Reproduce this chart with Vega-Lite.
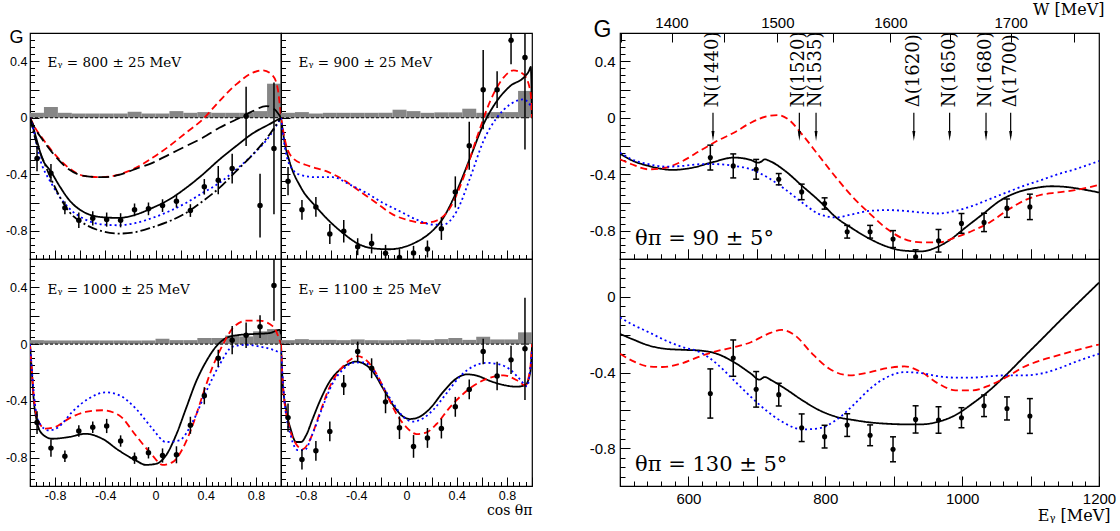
{
"$schema":"https://vega.github.io/schema/vega-lite/v6.json",
"padding":{"left":4,"top":0,"right":4,"bottom":2},
"background":"white",
"datasets":{
"hist":[
{"p":800,"x":-1,"x2":-0.8889,"y":0.035},{"p":800,"x":-0.8889,"x2":-0.7778,"y":0.076},{"p":800,"x":-0.7778,"x2":-0.6667,"y":0.035},{"p":800,"x":-0.6667,"x2":-0.5556,"y":0.03},{"p":800,"x":-0.5556,"x2":-0.4444,"y":0.03},{"p":800,"x":-0.4444,"x2":-0.3333,"y":0.03},{"p":800,"x":-0.3333,"x2":-0.2222,"y":0.03},{"p":800,"x":-0.2222,"x2":-0.1111,"y":0.043},{"p":800,"x":-0.1111,"x2":0,"y":0.03},{"p":800,"x":0,"x2":0.1111,"y":0.03},{"p":800,"x":0.1111,"x2":0.2222,"y":0.047},{"p":800,"x":0.2222,"x2":0.3333,"y":0.035},{"p":800,"x":0.3333,"x2":0.4444,"y":0.04},{"p":800,"x":0.4444,"x2":0.5556,"y":0.035},{"p":800,"x":0.5556,"x2":0.6667,"y":0.035},{"p":800,"x":0.6667,"x2":0.7778,"y":0.035},{"p":800,"x":0.7778,"x2":0.8889,"y":0.047},{"p":800,"x":0.8889,"x2":1,"y":0.241},
{"p":900,"x":-1,"x2":-0.8889,"y":0.035},{"p":900,"x":-0.8889,"x2":-0.7778,"y":0.04},{"p":900,"x":-0.7778,"x2":-0.6667,"y":0.03},{"p":900,"x":-0.6667,"x2":-0.5556,"y":0.035},{"p":900,"x":-0.5556,"x2":-0.4444,"y":0.035},{"p":900,"x":-0.4444,"x2":-0.3333,"y":0.035},{"p":900,"x":-0.3333,"x2":-0.2222,"y":0.035},{"p":900,"x":-0.2222,"x2":-0.1111,"y":0.035},{"p":900,"x":-0.1111,"x2":0,"y":0.057},{"p":900,"x":0,"x2":0.1111,"y":0.047},{"p":900,"x":0.1111,"x2":0.2222,"y":0.035},{"p":900,"x":0.2222,"x2":0.3333,"y":0.038},{"p":900,"x":0.3333,"x2":0.4444,"y":0.038},{"p":900,"x":0.4444,"x2":0.5556,"y":0.064},{"p":900,"x":0.5556,"x2":0.6667,"y":0.035},{"p":900,"x":0.6667,"x2":0.7778,"y":0.04},{"p":900,"x":0.7778,"x2":0.8889,"y":0.04},{"p":900,"x":0.8889,"x2":1,"y":0.19},
{"p":1000,"x":-1,"x2":-0.8889,"y":0.028},{"p":1000,"x":-0.8889,"x2":-0.7778,"y":0.026},{"p":1000,"x":-0.7778,"x2":-0.6667,"y":0.026},{"p":1000,"x":-0.6667,"x2":-0.5556,"y":0.026},{"p":1000,"x":-0.5556,"x2":-0.4444,"y":0.026},{"p":1000,"x":-0.4444,"x2":-0.3333,"y":0.026},{"p":1000,"x":-0.3333,"x2":-0.2222,"y":0.026},{"p":1000,"x":-0.2222,"x2":-0.1111,"y":0.026},{"p":1000,"x":-0.1111,"x2":0,"y":0.026},{"p":1000,"x":0,"x2":0.1111,"y":0.038},{"p":1000,"x":0.1111,"x2":0.2222,"y":0.028},{"p":1000,"x":0.2222,"x2":0.3333,"y":0.028},{"p":1000,"x":0.3333,"x2":0.4444,"y":0.043},{"p":1000,"x":0.4444,"x2":0.5556,"y":0.043},{"p":1000,"x":0.5556,"x2":0.6667,"y":0.061},{"p":1000,"x":0.6667,"x2":0.7778,"y":0.054},{"p":1000,"x":0.7778,"x2":0.8889,"y":0.09},{"p":1000,"x":0.8889,"x2":1,"y":0.106},
{"p":1100,"x":-1,"x2":-0.8889,"y":0.028},{"p":1100,"x":-0.8889,"x2":-0.7778,"y":0.035},{"p":1100,"x":-0.7778,"x2":-0.6667,"y":0.03},{"p":1100,"x":-0.6667,"x2":-0.5556,"y":0.03},{"p":1100,"x":-0.5556,"x2":-0.4444,"y":0.028},{"p":1100,"x":-0.4444,"x2":-0.3333,"y":0.033},{"p":1100,"x":-0.3333,"x2":-0.2222,"y":0.028},{"p":1100,"x":-0.2222,"x2":-0.1111,"y":0.028},{"p":1100,"x":-0.1111,"x2":0,"y":0.028},{"p":1100,"x":0,"x2":0.1111,"y":0.033},{"p":1100,"x":0.1111,"x2":0.2222,"y":0.028},{"p":1100,"x":0.2222,"x2":0.3333,"y":0.035},{"p":1100,"x":0.3333,"x2":0.4444,"y":0.043},{"p":1100,"x":0.4444,"x2":0.5556,"y":0.03},{"p":1100,"x":0.5556,"x2":0.6667,"y":0.052},{"p":1100,"x":0.6667,"x2":0.7778,"y":0.033},{"p":1100,"x":0.7778,"x2":0.8889,"y":0.033},{"p":1100,"x":0.8889,"x2":1,"y":0.083}
],
"pts":[
{"p":800,"x":-0.944,"y":-0.289,"lo":-0.379,"hi":-0.199},{"p":800,"x":-0.833,"y":-0.392,"lo":-0.457,"hi":-0.327},{"p":800,"x":-0.722,"y":-0.638,"lo":-0.683,"hi":-0.593},{"p":800,"x":-0.611,"y":-0.726,"lo":-0.781,"hi":-0.671},{"p":800,"x":-0.5,"y":-0.712,"lo":-0.762,"hi":-0.662},{"p":800,"x":-0.389,"y":-0.721,"lo":-0.771,"hi":-0.671},{"p":800,"x":-0.278,"y":-0.726,"lo":-0.776,"hi":-0.676},{"p":800,"x":-0.167,"y":-0.652,"lo":-0.697,"hi":-0.607},{"p":800,"x":-0.056,"y":-0.645,"lo":-0.69,"hi":-0.6},{"p":800,"x":0.056,"y":-0.622,"lo":-0.667,"hi":-0.577},{"p":800,"x":0.167,"y":-0.591,"lo":-0.636,"hi":-0.546},{"p":800,"x":0.278,"y":-0.657,"lo":-0.702,"hi":-0.612},{"p":800,"x":0.389,"y":-0.489,"lo":-0.544,"hi":-0.434},{"p":800,"x":0.5,"y":-0.442,"lo":-0.542,"hi":-0.342},{"p":800,"x":0.611,"y":-0.36,"lo":-0.465,"hi":-0.255},{"p":800,"x":0.722,"y":0.01,"lo":-0.2,"hi":0.22},{"p":800,"x":0.833,"y":-0.622,"lo":-0.847,"hi":-0.397},{"p":800,"x":0.944,"y":-0.217,"lo":-0.683,"hi":0.249},
{"p":900,"x":-0.944,"y":-0.449,"lo":-0.549,"hi":-0.349},{"p":900,"x":-0.833,"y":-0.652,"lo":-0.722,"hi":-0.582},{"p":900,"x":-0.722,"y":-0.631,"lo":-0.701,"hi":-0.561},{"p":900,"x":-0.611,"y":-0.823,"lo":-0.893,"hi":-0.753},{"p":900,"x":-0.5,"y":-0.804,"lo":-0.884,"hi":-0.724},{"p":900,"x":-0.389,"y":-0.913,"lo":-0.973,"hi":-0.853},{"p":900,"x":-0.278,"y":-0.891,"lo":-0.961,"hi":-0.821},{"p":900,"x":-0.167,"y":-0.96,"lo":-1.02,"hi":-0.9},{"p":900,"x":-0.056,"y":-0.99,"lo":-1.05,"hi":-0.93},{"p":900,"x":0.056,"y":-0.957,"lo":-1.007,"hi":-0.907},{"p":900,"x":0.167,"y":-0.929,"lo":-0.989,"hi":-0.869},{"p":900,"x":0.278,"y":-0.785,"lo":-0.865,"hi":-0.705},{"p":900,"x":0.389,"y":-0.525,"lo":-0.635,"hi":-0.415},{"p":900,"x":0.5,"y":-0.199,"lo":-0.369,"hi":-0.029},{"p":900,"x":0.611,"y":0.199,"lo":-0.081,"hi":0.479},{"p":900,"x":0.722,"y":0.199,"lo":0.069,"hi":0.329},{"p":900,"x":0.833,"y":0.548,"lo":0.378,"hi":0.718},{"p":900,"x":0.944,"y":0.426,"lo":-0.224,"hi":1.076},
{"p":1000,"x":-0.944,"y":-0.553,"lo":-0.633,"hi":-0.473},{"p":1000,"x":-0.833,"y":-0.733,"lo":-0.793,"hi":-0.673},{"p":1000,"x":-0.722,"y":-0.79,"lo":-0.83,"hi":-0.75},{"p":1000,"x":-0.611,"y":-0.612,"lo":-0.652,"hi":-0.572},{"p":1000,"x":-0.5,"y":-0.586,"lo":-0.626,"hi":-0.546},{"p":1000,"x":-0.389,"y":-0.577,"lo":-0.627,"hi":-0.527},{"p":1000,"x":-0.278,"y":-0.683,"lo":-0.723,"hi":-0.643},{"p":1000,"x":-0.167,"y":-0.804,"lo":-0.844,"hi":-0.764},{"p":1000,"x":-0.056,"y":-0.766,"lo":-0.806,"hi":-0.726},{"p":1000,"x":0.056,"y":-0.785,"lo":-0.835,"hi":-0.735},{"p":1000,"x":0.167,"y":-0.78,"lo":-0.84,"hi":-0.72},{"p":1000,"x":0.278,"y":-0.572,"lo":-0.632,"hi":-0.512},{"p":1000,"x":0.389,"y":-0.364,"lo":-0.424,"hi":-0.304},{"p":1000,"x":0.5,"y":-0.099,"lo":-0.159,"hi":-0.039},{"p":1000,"x":0.611,"y":0.028,"lo":-0.072,"hi":0.128},{"p":1000,"x":0.722,"y":0.062,"lo":-0.028,"hi":0.152},{"p":1000,"x":0.833,"y":0.123,"lo":0.043,"hi":0.203},{"p":1000,"x":0.944,"y":0.414,"lo":0.164,"hi":0.664},
{"p":1100,"x":-0.944,"y":-0.518,"lo":-0.618,"hi":-0.418},{"p":1100,"x":-0.833,"y":-0.813,"lo":-0.883,"hi":-0.743},{"p":1100,"x":-0.722,"y":-0.752,"lo":-0.822,"hi":-0.682},{"p":1100,"x":-0.611,"y":-0.615,"lo":-0.685,"hi":-0.545},{"p":1100,"x":-0.5,"y":-0.288,"lo":-0.358,"hi":-0.218},{"p":1100,"x":-0.389,"y":-0.052,"lo":-0.122,"hi":0.018},{"p":1100,"x":-0.278,"y":-0.17,"lo":-0.24,"hi":-0.1},{"p":1100,"x":-0.167,"y":-0.407,"lo":-0.487,"hi":-0.327},{"p":1100,"x":-0.056,"y":-0.589,"lo":-0.669,"hi":-0.509},{"p":1100,"x":0.056,"y":-0.721,"lo":-0.801,"hi":-0.641},{"p":1100,"x":0.167,"y":-0.661,"lo":-0.731,"hi":-0.591},{"p":1100,"x":0.278,"y":-0.595,"lo":-0.665,"hi":-0.525},{"p":1100,"x":0.389,"y":-0.442,"lo":-0.512,"hi":-0.372},{"p":1100,"x":0.5,"y":-0.319,"lo":-0.389,"hi":-0.249},{"p":1100,"x":0.611,"y":-0.052,"lo":-0.142,"hi":0.038},{"p":1100,"x":0.722,"y":-0.225,"lo":-0.325,"hi":-0.125},{"p":1100,"x":0.833,"y":-0.111,"lo":-0.211,"hi":-0.011},{"p":1100,"x":0.944,"y":-0.033,"lo":-0.393,"hi":0.327},
{"p":90,"x":632,"y":-0.282,"lo":-0.37,"hi":-0.194},{"p":90,"x":665.5,"y":-0.341,"lo":-0.426,"hi":-0.256},{"p":90,"x":699,"y":-0.365,"lo":-0.435,"hi":-0.295},{"p":90,"x":732,"y":-0.435,"lo":-0.475,"hi":-0.395},{"p":90,"x":765.5,"y":-0.525,"lo":-0.58,"hi":-0.47},{"p":90,"x":799,"y":-0.607,"lo":-0.647,"hi":-0.567},{"p":90,"x":832,"y":-0.807,"lo":-0.852,"hi":-0.762},{"p":90,"x":865.5,"y":-0.807,"lo":-0.852,"hi":-0.762},{"p":90,"x":899,"y":-0.859,"lo":-0.919,"hi":-0.799},{"p":90,"x":932,"y":-0.985,"lo":-1.035,"hi":-0.935},{"p":90,"x":965.5,"y":-0.871,"lo":-0.951,"hi":-0.791},{"p":90,"x":999,"y":-0.748,"lo":-0.818,"hi":-0.678},{"p":90,"x":1032,"y":-0.741,"lo":-0.806,"hi":-0.676},{"p":90,"x":1065.5,"y":-0.64,"lo":-0.705,"hi":-0.575},{"p":90,"x":1099,"y":-0.631,"lo":-0.721,"hi":-0.541},
{"p":130,"x":632,"y":-0.511,"lo":-0.641,"hi":-0.381},{"p":130,"x":665.5,"y":-0.324,"lo":-0.42,"hi":-0.228},{"p":130,"x":699,"y":-0.489,"lo":-0.583,"hi":-0.395},{"p":130,"x":732,"y":-0.517,"lo":-0.577,"hi":-0.457},{"p":130,"x":765.5,"y":-0.692,"lo":-0.765,"hi":-0.619},{"p":130,"x":799,"y":-0.739,"lo":-0.799,"hi":-0.679},{"p":130,"x":832,"y":-0.678,"lo":-0.738,"hi":-0.618},{"p":130,"x":865.5,"y":-0.732,"lo":-0.787,"hi":-0.677},{"p":130,"x":899,"y":-0.806,"lo":-0.872,"hi":-0.74},{"p":130,"x":932,"y":-0.648,"lo":-0.72,"hi":-0.576},{"p":130,"x":965.5,"y":-0.651,"lo":-0.721,"hi":-0.581},{"p":130,"x":999,"y":-0.639,"lo":-0.692,"hi":-0.586},{"p":130,"x":1032,"y":-0.576,"lo":-0.633,"hi":-0.519},{"p":130,"x":1065.5,"y":-0.59,"lo":-0.651,"hi":-0.529},{"p":130,"x":1099,"y":-0.63,"lo":-0.722,"hi":-0.538}
],
"res":[{"lab":"N(1440)","x":635.9},{"lab":"N(1520)","x":762.1},{"lab":"N(1535)","x":786.5},{"lab":"Δ(1620)","x":929.4},{"lab":"N(1650)","x":981.7},{"lab":"N(1680)","x":1034.9},{"lab":"Δ(1700)","x":1070.9}],
"cur":[
{"p":800,"m":"s","x":-1,"y":0},{"p":800,"m":"s","x":-0.97,"y":-0.083},{"p":800,"m":"s","x":-0.944,"y":-0.165},{"p":800,"m":"s","x":-0.904,"y":-0.284},{"p":800,"m":"s","x":-0.832,"y":-0.383},{"p":800,"m":"s","x":-0.76,"y":-0.49},{"p":800,"m":"s","x":-0.691,"y":-0.579},{"p":800,"m":"s","x":-0.557,"y":-0.674},{"p":800,"m":"s","x":-0.424,"y":-0.704},{"p":800,"m":"s","x":-0.291,"y":-0.709},{"p":800,"m":"s","x":-0.157,"y":-0.686},{"p":800,"m":"s","x":-0.024,"y":-0.638},{"p":800,"m":"s","x":0.109,"y":-0.579},{"p":800,"m":"s","x":0.243,"y":-0.497},{"p":800,"m":"s","x":0.376,"y":-0.402},{"p":800,"m":"s","x":0.509,"y":-0.296},{"p":800,"m":"s","x":0.643,"y":-0.2},{"p":800,"m":"s","x":0.776,"y":-0.11},{"p":800,"m":"s","x":0.909,"y":-0.045},{"p":800,"m":"s","x":1,"y":0},
{"p":800,"m":"r","x":-1,"y":0},{"p":800,"m":"r","x":-0.96,"y":-0.07},{"p":800,"m":"r","x":-0.904,"y":-0.142},{"p":800,"m":"r","x":-0.824,"y":-0.236},{"p":800,"m":"r","x":-0.691,"y":-0.355},{"p":800,"m":"r","x":-0.557,"y":-0.414},{"p":800,"m":"r","x":-0.424,"y":-0.421},{"p":800,"m":"r","x":-0.291,"y":-0.402},{"p":800,"m":"r","x":-0.157,"y":-0.355},{"p":800,"m":"r","x":-0.024,"y":-0.284},{"p":800,"m":"r","x":0.109,"y":-0.201},{"p":800,"m":"r","x":0.243,"y":-0.106},{"p":800,"m":"r","x":0.376,"y":-0.012},{"p":800,"m":"r","x":0.509,"y":0.118},{"p":800,"m":"r","x":0.643,"y":0.236},{"p":800,"m":"r","x":0.776,"y":0.319},{"p":800,"m":"r","x":0.856,"y":0.336},{"p":800,"m":"r","x":0.936,"y":0.296},{"p":800,"m":"r","x":0.975,"y":0.2},{"p":800,"m":"r","x":1,"y":0},
{"p":800,"m":"k","x":-1,"y":0},{"p":800,"m":"k","x":-0.96,"y":-0.075},{"p":800,"m":"k","x":-0.904,"y":-0.15},{"p":800,"m":"k","x":-0.824,"y":-0.245},{"p":800,"m":"k","x":-0.691,"y":-0.365},{"p":800,"m":"k","x":-0.557,"y":-0.414},{"p":800,"m":"k","x":-0.424,"y":-0.421},{"p":800,"m":"k","x":-0.291,"y":-0.405},{"p":800,"m":"k","x":-0.157,"y":-0.362},{"p":800,"m":"k","x":-0.024,"y":-0.319},{"p":800,"m":"k","x":0.109,"y":-0.26},{"p":800,"m":"k","x":0.243,"y":-0.201},{"p":800,"m":"k","x":0.376,"y":-0.142},{"p":800,"m":"k","x":0.509,"y":-0.071},{"p":800,"m":"k","x":0.643,"y":-0.012},{"p":800,"m":"k","x":0.776,"y":0.047},{"p":800,"m":"k","x":0.882,"y":0.083},{"p":800,"m":"k","x":0.949,"y":0.059},{"p":800,"m":"k","x":1,"y":0},
{"p":800,"m":"b","x":-1,"y":0},{"p":800,"m":"b","x":-0.97,"y":-0.094},{"p":800,"m":"b","x":-0.93,"y":-0.26},{"p":800,"m":"b","x":-0.824,"y":-0.473},{"p":800,"m":"b","x":-0.691,"y":-0.638},{"p":800,"m":"b","x":-0.557,"y":-0.721},{"p":800,"m":"b","x":-0.424,"y":-0.756},{"p":800,"m":"b","x":-0.291,"y":-0.761},{"p":800,"m":"b","x":-0.157,"y":-0.745},{"p":800,"m":"b","x":-0.024,"y":-0.709},{"p":800,"m":"b","x":0.109,"y":-0.662},{"p":800,"m":"b","x":0.243,"y":-0.603},{"p":800,"m":"b","x":0.376,"y":-0.532},{"p":800,"m":"b","x":0.509,"y":-0.461},{"p":800,"m":"b","x":0.643,"y":-0.366},{"p":800,"m":"b","x":0.776,"y":-0.26},{"p":800,"m":"b","x":0.909,"y":-0.13},{"p":800,"m":"b","x":1,"y":0},
{"p":800,"m":"d","x":-1,"y":0},{"p":800,"m":"d","x":-0.96,"y":-0.142},{"p":800,"m":"d","x":-0.89,"y":-0.31},{"p":800,"m":"d","x":-0.824,"y":-0.449},{"p":800,"m":"d","x":-0.691,"y":-0.662},{"p":800,"m":"d","x":-0.557,"y":-0.756},{"p":800,"m":"d","x":-0.424,"y":-0.804},{"p":800,"m":"d","x":-0.291,"y":-0.82},{"p":800,"m":"d","x":-0.157,"y":-0.809},{"p":800,"m":"d","x":-0.024,"y":-0.775},{"p":800,"m":"d","x":0.109,"y":-0.733},{"p":800,"m":"d","x":0.243,"y":-0.674},{"p":800,"m":"d","x":0.376,"y":-0.591},{"p":800,"m":"d","x":0.509,"y":-0.497},{"p":800,"m":"d","x":0.643,"y":-0.378},{"p":800,"m":"d","x":0.776,"y":-0.26},{"p":800,"m":"d","x":0.909,"y":-0.118},{"p":800,"m":"d","x":1,"y":0},
{"p":900,"m":"s","x":-1,"y":0},{"p":900,"m":"s","x":-0.973,"y":-0.165},{"p":900,"m":"s","x":-0.933,"y":-0.307},{"p":900,"m":"s","x":-0.84,"y":-0.496},{"p":900,"m":"s","x":-0.72,"y":-0.631},{"p":900,"m":"s","x":-0.613,"y":-0.733},{"p":900,"m":"s","x":-0.507,"y":-0.816},{"p":900,"m":"s","x":-0.373,"y":-0.898},{"p":900,"m":"s","x":-0.24,"y":-0.927},{"p":900,"m":"s","x":-0.133,"y":-0.931},{"p":900,"m":"s","x":-0.027,"y":-0.917},{"p":900,"m":"s","x":0.08,"y":-0.879},{"p":900,"m":"s","x":0.187,"y":-0.816},{"p":900,"m":"s","x":0.293,"y":-0.709},{"p":900,"m":"s","x":0.4,"y":-0.52},{"p":900,"m":"s","x":0.507,"y":-0.284},{"p":900,"m":"s","x":0.613,"y":-0.047},{"p":900,"m":"s","x":0.72,"y":0.118},{"p":900,"m":"s","x":0.827,"y":0.225},{"p":900,"m":"s","x":0.933,"y":0.284},{"p":900,"m":"s","x":0.975,"y":0.33},{"p":900,"m":"s","x":0.99,"y":0.36},{"p":900,"m":"s","x":1,"y":0},
{"p":900,"m":"r","x":-1,"y":0},{"p":900,"m":"r","x":-0.96,"y":-0.189},{"p":900,"m":"r","x":-0.907,"y":-0.284},{"p":900,"m":"r","x":-0.773,"y":-0.343},{"p":900,"m":"r","x":-0.64,"y":-0.378},{"p":900,"m":"r","x":-0.507,"y":-0.437},{"p":900,"m":"r","x":-0.373,"y":-0.52},{"p":900,"m":"r","x":-0.24,"y":-0.603},{"p":900,"m":"r","x":-0.107,"y":-0.686},{"p":900,"m":"r","x":0.027,"y":-0.728},{"p":900,"m":"r","x":0.133,"y":-0.745},{"p":900,"m":"r","x":0.24,"y":-0.728},{"p":900,"m":"r","x":0.347,"y":-0.638},{"p":900,"m":"r","x":0.453,"y":-0.426},{"p":900,"m":"r","x":0.56,"y":-0.142},{"p":900,"m":"r","x":0.667,"y":0.118},{"p":900,"m":"r","x":0.773,"y":0.284},{"p":900,"m":"r","x":0.853,"y":0.336},{"p":900,"m":"r","x":0.933,"y":0.307},{"p":900,"m":"r","x":0.987,"y":0.189},{"p":900,"m":"r","x":1,"y":0},
{"p":900,"m":"b","x":-1,"y":0},{"p":900,"m":"b","x":-0.973,"y":-0.189},{"p":900,"m":"b","x":-0.933,"y":-0.331},{"p":900,"m":"b","x":-0.853,"y":-0.402},{"p":900,"m":"b","x":-0.72,"y":-0.421},{"p":900,"m":"b","x":-0.587,"y":-0.421},{"p":900,"m":"b","x":-0.453,"y":-0.473},{"p":900,"m":"b","x":-0.32,"y":-0.532},{"p":900,"m":"b","x":-0.187,"y":-0.603},{"p":900,"m":"b","x":-0.053,"y":-0.662},{"p":900,"m":"b","x":0.08,"y":-0.721},{"p":900,"m":"b","x":0.213,"y":-0.757},{"p":900,"m":"b","x":0.293,"y":-0.757},{"p":900,"m":"b","x":0.4,"y":-0.662},{"p":900,"m":"b","x":0.507,"y":-0.426},{"p":900,"m":"b","x":0.613,"y":-0.165},{"p":900,"m":"b","x":0.72,"y":0},{"p":900,"m":"b","x":0.827,"y":0.095},{"p":900,"m":"b","x":0.933,"y":0.13},{"p":900,"m":"b","x":1,"y":0.071},
{"p":1000,"m":"s","x":-1,"y":0},{"p":1000,"m":"s","x":-0.985,"y":-0.2},{"p":1000,"m":"s","x":-0.971,"y":-0.383},{"p":1000,"m":"s","x":-0.944,"y":-0.55},{"p":1000,"m":"s","x":-0.904,"y":-0.632},{"p":1000,"m":"s","x":-0.824,"y":-0.667},{"p":1000,"m":"s","x":-0.691,"y":-0.655},{"p":1000,"m":"s","x":-0.557,"y":-0.632},{"p":1000,"m":"s","x":-0.424,"y":-0.667},{"p":1000,"m":"s","x":-0.291,"y":-0.75},{"p":1000,"m":"s","x":-0.157,"y":-0.82},{"p":1000,"m":"s","x":-0.077,"y":-0.851},{"p":1000,"m":"s","x":0.003,"y":-0.844},{"p":1000,"m":"s","x":0.083,"y":-0.785},{"p":1000,"m":"s","x":0.163,"y":-0.643},{"p":1000,"m":"s","x":0.243,"y":-0.454},{"p":1000,"m":"s","x":0.323,"y":-0.265},{"p":1000,"m":"s","x":0.403,"y":-0.123},{"p":1000,"m":"s","x":0.483,"y":-0.017},{"p":1000,"m":"s","x":0.563,"y":0.043},{"p":1000,"m":"s","x":0.643,"y":0.062},{"p":1000,"m":"s","x":0.776,"y":0.071},{"p":1000,"m":"s","x":0.909,"y":0.078},{"p":1000,"m":"s","x":0.989,"y":0.1},{"p":1000,"m":"s","x":1,"y":0.07},
{"p":1000,"m":"r","x":-1,"y":0},{"p":1000,"m":"r","x":-0.985,"y":-0.19},{"p":1000,"m":"r","x":-0.971,"y":-0.359},{"p":1000,"m":"r","x":-0.93,"y":-0.55},{"p":1000,"m":"r","x":-0.877,"y":-0.596},{"p":1000,"m":"r","x":-0.797,"y":-0.584},{"p":1000,"m":"r","x":-0.691,"y":-0.525},{"p":1000,"m":"r","x":-0.557,"y":-0.478},{"p":1000,"m":"r","x":-0.424,"y":-0.466},{"p":1000,"m":"r","x":-0.291,"y":-0.501},{"p":1000,"m":"r","x":-0.157,"y":-0.643},{"p":1000,"m":"r","x":-0.024,"y":-0.785},{"p":1000,"m":"r","x":0.056,"y":-0.851},{"p":1000,"m":"r","x":0.136,"y":-0.832},{"p":1000,"m":"r","x":0.216,"y":-0.738},{"p":1000,"m":"r","x":0.296,"y":-0.572},{"p":1000,"m":"r","x":0.376,"y":-0.359},{"p":1000,"m":"r","x":0.456,"y":-0.158},{"p":1000,"m":"r","x":0.536,"y":-0.005},{"p":1000,"m":"r","x":0.616,"y":0.113},{"p":1000,"m":"r","x":0.723,"y":0.165},{"p":1000,"m":"r","x":0.829,"y":0.165},{"p":1000,"m":"r","x":0.936,"y":0.125},{"p":1000,"m":"r","x":1,"y":0},
{"p":1000,"m":"b","x":-1,"y":0},{"p":1000,"m":"b","x":-0.985,"y":-0.18},{"p":1000,"m":"b","x":-0.971,"y":-0.336},{"p":1000,"m":"b","x":-0.93,"y":-0.55},{"p":1000,"m":"b","x":-0.851,"y":-0.608},{"p":1000,"m":"b","x":-0.771,"y":-0.584},{"p":1000,"m":"b","x":-0.664,"y":-0.478},{"p":1000,"m":"b","x":-0.531,"y":-0.383},{"p":1000,"m":"b","x":-0.397,"y":-0.34},{"p":1000,"m":"b","x":-0.291,"y":-0.359},{"p":1000,"m":"b","x":-0.157,"y":-0.454},{"p":1000,"m":"b","x":-0.024,"y":-0.596},{"p":1000,"m":"b","x":0.083,"y":-0.69},{"p":1000,"m":"b","x":0.189,"y":-0.679},{"p":1000,"m":"b","x":0.296,"y":-0.548},{"p":1000,"m":"b","x":0.403,"y":-0.336},{"p":1000,"m":"b","x":0.509,"y":-0.147},{"p":1000,"m":"b","x":0.616,"y":-0.017},{"p":1000,"m":"b","x":0.723,"y":-0.005},{"p":1000,"m":"b","x":0.829,"y":-0.017},{"p":1000,"m":"b","x":0.936,"y":-0.04},{"p":1000,"m":"b","x":1,"y":-0.064},
{"p":1100,"m":"s","x":-1,"y":0},{"p":1100,"m":"s","x":-0.987,"y":-0.265},{"p":1100,"m":"s","x":-0.96,"y":-0.454},{"p":1100,"m":"s","x":-0.92,"y":-0.608},{"p":1100,"m":"s","x":-0.88,"y":-0.69},{"p":1100,"m":"s","x":-0.84,"y":-0.69},{"p":1100,"m":"s","x":-0.8,"y":-0.643},{"p":1100,"m":"s","x":-0.747,"y":-0.525},{"p":1100,"m":"s","x":-0.693,"y":-0.407},{"p":1100,"m":"s","x":-0.613,"y":-0.265},{"p":1100,"m":"s","x":-0.533,"y":-0.182},{"p":1100,"m":"s","x":-0.453,"y":-0.135},{"p":1100,"m":"s","x":-0.4,"y":-0.123},{"p":1100,"m":"s","x":-0.347,"y":-0.135},{"p":1100,"m":"s","x":-0.267,"y":-0.194},{"p":1100,"m":"s","x":-0.187,"y":-0.312},{"p":1100,"m":"s","x":-0.107,"y":-0.43},{"p":1100,"m":"s","x":-0.027,"y":-0.511},{"p":1100,"m":"s","x":0.027,"y":-0.528},{"p":1100,"m":"s","x":0.107,"y":-0.511},{"p":1100,"m":"s","x":0.187,"y":-0.454},{"p":1100,"m":"s","x":0.293,"y":-0.336},{"p":1100,"m":"s","x":0.4,"y":-0.241},{"p":1100,"m":"s","x":0.48,"y":-0.213},{"p":1100,"m":"s","x":0.56,"y":-0.222},{"p":1100,"m":"s","x":0.667,"y":-0.26},{"p":1100,"m":"s","x":0.773,"y":-0.288},{"p":1100,"m":"s","x":0.88,"y":-0.3},{"p":1100,"m":"s","x":0.947,"y":-0.288},{"p":1100,"m":"s","x":0.987,"y":-0.194},{"p":1100,"m":"s","x":1,"y":-0.02},
{"p":1100,"m":"r","x":-1,"y":0},{"p":1100,"m":"r","x":-0.984,"y":-0.303},{"p":1100,"m":"r","x":-0.933,"y":-0.586},{"p":1100,"m":"r","x":-0.88,"y":-0.704},{"p":1100,"m":"r","x":-0.827,"y":-0.74},{"p":1100,"m":"r","x":-0.773,"y":-0.681},{"p":1100,"m":"r","x":-0.693,"y":-0.492},{"p":1100,"m":"r","x":-0.613,"y":-0.303},{"p":1100,"m":"r","x":-0.533,"y":-0.185},{"p":1100,"m":"r","x":-0.453,"y":-0.114},{"p":1100,"m":"r","x":-0.387,"y":-0.085},{"p":1100,"m":"r","x":-0.32,"y":-0.114},{"p":1100,"m":"r","x":-0.24,"y":-0.208},{"p":1100,"m":"r","x":-0.16,"y":-0.35},{"p":1100,"m":"r","x":-0.08,"y":-0.492},{"p":1100,"m":"r","x":0,"y":-0.586},{"p":1100,"m":"r","x":0.08,"y":-0.634},{"p":1100,"m":"r","x":0.16,"y":-0.622},{"p":1100,"m":"r","x":0.24,"y":-0.563},{"p":1100,"m":"r","x":0.347,"y":-0.444},{"p":1100,"m":"r","x":0.453,"y":-0.35},{"p":1100,"m":"r","x":0.56,"y":-0.279},{"p":1100,"m":"r","x":0.667,"y":-0.236},{"p":1100,"m":"r","x":0.773,"y":-0.22},{"p":1100,"m":"r","x":0.88,"y":-0.255},{"p":1100,"m":"r","x":0.947,"y":-0.291},{"p":1100,"m":"r","x":0.987,"y":-0.161},{"p":1100,"m":"r","x":1,"y":0},
{"p":1100,"m":"b","x":-1,"y":-0.05},{"p":1100,"m":"b","x":-0.973,"y":-0.393},{"p":1100,"m":"b","x":-0.92,"y":-0.652},{"p":1100,"m":"b","x":-0.867,"y":-0.747},{"p":1100,"m":"b","x":-0.813,"y":-0.747},{"p":1100,"m":"b","x":-0.747,"y":-0.629},{"p":1100,"m":"b","x":-0.667,"y":-0.44},{"p":1100,"m":"b","x":-0.587,"y":-0.274},{"p":1100,"m":"b","x":-0.507,"y":-0.18},{"p":1100,"m":"b","x":-0.427,"y":-0.132},{"p":1100,"m":"b","x":-0.347,"y":-0.128},{"p":1100,"m":"b","x":-0.267,"y":-0.18},{"p":1100,"m":"b","x":-0.187,"y":-0.298},{"p":1100,"m":"b","x":-0.107,"y":-0.416},{"p":1100,"m":"b","x":-0.027,"y":-0.511},{"p":1100,"m":"b","x":0.053,"y":-0.546},{"p":1100,"m":"b","x":0.133,"y":-0.522},{"p":1100,"m":"b","x":0.213,"y":-0.463},{"p":1100,"m":"b","x":0.32,"y":-0.345},{"p":1100,"m":"b","x":0.427,"y":-0.227},{"p":1100,"m":"b","x":0.533,"y":-0.156},{"p":1100,"m":"b","x":0.64,"y":-0.132},{"p":1100,"m":"b","x":0.747,"y":-0.144},{"p":1100,"m":"b","x":0.827,"y":-0.18},{"p":1100,"m":"b","x":0.907,"y":-0.251},{"p":1100,"m":"b","x":0.96,"y":-0.298},{"p":1100,"m":"b","x":1,"y":-0.05},
{"p":90,"m":"s","x":500,"y":-0.254},{"p":90,"m":"s","x":516.9,"y":-0.301},{"p":90,"m":"s","x":541.9,"y":-0.341},{"p":90,"m":"s","x":576.7,"y":-0.369},{"p":90,"m":"s","x":606.6,"y":-0.353},{"p":90,"m":"s","x":636.5,"y":-0.313},{"p":90,"m":"s","x":666.4,"y":-0.282},{"p":90,"m":"s","x":691.3,"y":-0.299},{"p":90,"m":"s","x":701.3,"y":-0.318},{"p":90,"m":"s","x":706.3,"y":-0.311},{"p":90,"m":"s","x":711.3,"y":-0.294},{"p":90,"m":"s","x":718.7,"y":-0.306},{"p":90,"m":"s","x":741.2,"y":-0.376},{"p":90,"m":"s","x":766.1,"y":-0.482},{"p":90,"m":"s","x":791,"y":-0.588},{"p":90,"m":"s","x":815.9,"y":-0.706},{"p":90,"m":"s","x":840.8,"y":-0.788},{"p":90,"m":"s","x":865.7,"y":-0.859},{"p":90,"m":"s","x":890.6,"y":-0.913},{"p":90,"m":"s","x":915.5,"y":-0.941},{"p":90,"m":"s","x":940.5,"y":-0.946},{"p":90,"m":"s","x":960.4,"y":-0.922},{"p":90,"m":"s","x":980.3,"y":-0.871},{"p":90,"m":"s","x":1005.2,"y":-0.776},{"p":90,"m":"s","x":1030.2,"y":-0.682},{"p":90,"m":"s","x":1055.1,"y":-0.588},{"p":90,"m":"s","x":1080,"y":-0.529},{"p":90,"m":"s","x":1104.9,"y":-0.499},{"p":90,"m":"s","x":1129.8,"y":-0.485},{"p":90,"m":"s","x":1149.7,"y":-0.489},{"p":90,"m":"s","x":1174.6,"y":-0.506},{"p":90,"m":"s","x":1200,"y":-0.529},
{"p":90,"m":"r","x":500,"y":-0.294},{"p":90,"m":"r","x":516.9,"y":-0.329},{"p":90,"m":"r","x":541.9,"y":-0.365},{"p":90,"m":"r","x":566.8,"y":-0.353},{"p":90,"m":"r","x":591.7,"y":-0.306},{"p":90,"m":"r","x":616.6,"y":-0.235},{"p":90,"m":"r","x":641.5,"y":-0.165},{"p":90,"m":"r","x":666.4,"y":-0.106},{"p":90,"m":"r","x":691.3,"y":-0.035},{"p":90,"m":"r","x":716.2,"y":0.012},{"p":90,"m":"r","x":731.2,"y":0.019},{"p":90,"m":"r","x":746.1,"y":-0.012},{"p":90,"m":"r","x":766.1,"y":-0.118},{"p":90,"m":"r","x":791,"y":-0.271},{"p":90,"m":"r","x":815.9,"y":-0.424},{"p":90,"m":"r","x":840.8,"y":-0.565},{"p":90,"m":"r","x":865.7,"y":-0.682},{"p":90,"m":"r","x":890.6,"y":-0.788},{"p":90,"m":"r","x":915.5,"y":-0.859},{"p":90,"m":"r","x":940.5,"y":-0.882},{"p":90,"m":"r","x":965.4,"y":-0.882},{"p":90,"m":"r","x":990.3,"y":-0.847},{"p":90,"m":"r","x":1015.2,"y":-0.8},{"p":90,"m":"r","x":1040.1,"y":-0.741},{"p":90,"m":"r","x":1065,"y":-0.659},{"p":90,"m":"r","x":1090,"y":-0.588},{"p":90,"m":"r","x":1114.9,"y":-0.546},{"p":90,"m":"r","x":1139.8,"y":-0.529},{"p":90,"m":"r","x":1164.7,"y":-0.513},{"p":90,"m":"r","x":1200,"y":-0.475},
{"p":90,"m":"b","x":500,"y":-0.247},{"p":90,"m":"b","x":516.9,"y":-0.294},{"p":90,"m":"b","x":541.9,"y":-0.329},{"p":90,"m":"b","x":566.8,"y":-0.346},{"p":90,"m":"b","x":591.7,"y":-0.341},{"p":90,"m":"b","x":616.6,"y":-0.329},{"p":90,"m":"b","x":641.5,"y":-0.329},{"p":90,"m":"b","x":666.4,"y":-0.341},{"p":90,"m":"b","x":691.3,"y":-0.365},{"p":90,"m":"b","x":716.2,"y":-0.424},{"p":90,"m":"b","x":741.2,"y":-0.506},{"p":90,"m":"b","x":766.1,"y":-0.6},{"p":90,"m":"b","x":791,"y":-0.682},{"p":90,"m":"b","x":815.9,"y":-0.706},{"p":90,"m":"b","x":840.8,"y":-0.682},{"p":90,"m":"b","x":865.7,"y":-0.659},{"p":90,"m":"b","x":890.6,"y":-0.654},{"p":90,"m":"b","x":915.5,"y":-0.659},{"p":90,"m":"b","x":940.5,"y":-0.671},{"p":90,"m":"b","x":965.4,"y":-0.678},{"p":90,"m":"b","x":990.3,"y":-0.659},{"p":90,"m":"b","x":1015.2,"y":-0.624},{"p":90,"m":"b","x":1040.1,"y":-0.576},{"p":90,"m":"b","x":1065,"y":-0.529},{"p":90,"m":"b","x":1090,"y":-0.482},{"p":90,"m":"b","x":1114.9,"y":-0.442},{"p":90,"m":"b","x":1139.8,"y":-0.4},{"p":90,"m":"b","x":1164.7,"y":-0.365},{"p":90,"m":"b","x":1200,"y":-0.306},
{"p":130,"m":"s","x":500,"y":-0.196},{"p":130,"m":"s","x":516.9,"y":-0.222},{"p":130,"m":"s","x":541.9,"y":-0.257},{"p":130,"m":"s","x":566.8,"y":-0.275},{"p":130,"m":"s","x":591.7,"y":-0.28},{"p":130,"m":"s","x":616.6,"y":-0.284},{"p":130,"m":"s","x":641.5,"y":-0.301},{"p":130,"m":"s","x":666.4,"y":-0.345},{"p":130,"m":"s","x":691.3,"y":-0.406},{"p":130,"m":"s","x":703.8,"y":-0.438},{"p":130,"m":"s","x":711.3,"y":-0.424},{"p":130,"m":"s","x":721.2,"y":-0.441},{"p":130,"m":"s","x":741.2,"y":-0.485},{"p":130,"m":"s","x":766.1,"y":-0.546},{"p":130,"m":"s","x":791,"y":-0.599},{"p":130,"m":"s","x":815.9,"y":-0.634},{"p":130,"m":"s","x":840.8,"y":-0.651},{"p":130,"m":"s","x":865.7,"y":-0.664},{"p":130,"m":"s","x":890.6,"y":-0.671},{"p":130,"m":"s","x":915.5,"y":-0.674},{"p":130,"m":"s","x":940.5,"y":-0.674},{"p":130,"m":"s","x":965.4,"y":-0.66},{"p":130,"m":"s","x":990.3,"y":-0.625},{"p":130,"m":"s","x":1015.2,"y":-0.564},{"p":130,"m":"s","x":1040.1,"y":-0.494},{"p":130,"m":"s","x":1065,"y":-0.41},{"p":130,"m":"s","x":1089.9,"y":-0.319},{"p":130,"m":"s","x":1114.9,"y":-0.229},{"p":130,"m":"s","x":1139.8,"y":-0.138},{"p":130,"m":"s","x":1164.7,"y":-0.049},{"p":130,"m":"s","x":1200,"y":0.075},
{"p":130,"m":"r","x":500,"y":-0.301},{"p":130,"m":"r","x":516.9,"y":-0.336},{"p":130,"m":"r","x":541.9,"y":-0.368},{"p":130,"m":"r","x":561.8,"y":-0.371},{"p":130,"m":"r","x":591.7,"y":-0.35},{"p":130,"m":"r","x":616.6,"y":-0.315},{"p":130,"m":"r","x":641.5,"y":-0.287},{"p":130,"m":"r","x":666.4,"y":-0.266},{"p":130,"m":"r","x":691.3,"y":-0.24},{"p":130,"m":"r","x":716.2,"y":-0.196},{"p":130,"m":"r","x":736.2,"y":-0.175},{"p":130,"m":"r","x":756.1,"y":-0.205},{"p":130,"m":"r","x":781,"y":-0.301},{"p":130,"m":"r","x":805.9,"y":-0.38},{"p":130,"m":"r","x":835.8,"y":-0.415},{"p":130,"m":"r","x":865.7,"y":-0.398},{"p":130,"m":"r","x":890.6,"y":-0.377},{"p":130,"m":"r","x":915.5,"y":-0.368},{"p":130,"m":"r","x":940.5,"y":-0.398},{"p":130,"m":"r","x":965.4,"y":-0.459},{"p":130,"m":"r","x":990.3,"y":-0.494},{"p":130,"m":"r","x":1015.2,"y":-0.494},{"p":130,"m":"r","x":1040.1,"y":-0.468},{"p":130,"m":"r","x":1065,"y":-0.424},{"p":130,"m":"r","x":1089.9,"y":-0.371},{"p":130,"m":"r","x":1114.9,"y":-0.336},{"p":130,"m":"r","x":1139.8,"y":-0.31},{"p":130,"m":"r","x":1164.7,"y":-0.284},{"p":130,"m":"r","x":1200,"y":-0.252},
{"p":130,"m":"b","x":500,"y":-0.109},{"p":130,"m":"b","x":516.9,"y":-0.144},{"p":130,"m":"b","x":541.9,"y":-0.187},{"p":130,"m":"b","x":566.8,"y":-0.231},{"p":130,"m":"b","x":591.7,"y":-0.266},{"p":130,"m":"b","x":616.6,"y":-0.292},{"p":130,"m":"b","x":641.5,"y":-0.354},{"p":130,"m":"b","x":666.4,"y":-0.441},{"p":130,"m":"b","x":691.3,"y":-0.529},{"p":130,"m":"b","x":716.2,"y":-0.608},{"p":130,"m":"b","x":741.2,"y":-0.669},{"p":130,"m":"b","x":766.1,"y":-0.701},{"p":130,"m":"b","x":791,"y":-0.695},{"p":130,"m":"b","x":815.9,"y":-0.651},{"p":130,"m":"b","x":840.8,"y":-0.573},{"p":130,"m":"b","x":865.7,"y":-0.485},{"p":130,"m":"b","x":890.6,"y":-0.424},{"p":130,"m":"b","x":915.5,"y":-0.398},{"p":130,"m":"b","x":940.5,"y":-0.403},{"p":130,"m":"b","x":965.4,"y":-0.42},{"p":130,"m":"b","x":990.3,"y":-0.427},{"p":130,"m":"b","x":1015.2,"y":-0.427},{"p":130,"m":"b","x":1040.1,"y":-0.42},{"p":130,"m":"b","x":1065,"y":-0.415},{"p":130,"m":"b","x":1089.9,"y":-0.415},{"p":130,"m":"b","x":1114.9,"y":-0.406},{"p":130,"m":"b","x":1139.8,"y":-0.38},{"p":130,"m":"b","x":1164.7,"y":-0.345},{"p":130,"m":"b","x":1200,"y":-0.301}
]
},
"columns":4,
"spacing":0,
"bounds":"flush",
"resolve":{"scale":{"x":"independent","y":"independent"}},
"concat":[
  {"width":251,"height":226,
   "layer":[
    {"data":{"name":"hist"},"transform":[{"filter":"datum.p==800"}],"mark":{"type":"bar","color":"#868686"},"encoding":{
      "x":{"field":"x","type":"quantitative","scale":{"domain":[-1,1],"nice":false,"zero":false},"axis":{"orient":"bottom","title":null,"labels":false,"values":[-1,-0.95,-0.9,-0.85,-0.8,-0.75,-0.7,-0.65,-0.6,-0.55,-0.5,-0.45,-0.4,-0.35,-0.3,-0.25,-0.2,-0.15,-0.1,-0.05,0,0.05,0.1,0.15,0.2,0.25,0.3,0.35,0.4,0.45,0.5,0.55,0.6,0.65,0.7,0.75,0.8,0.85,0.9,0.95,1],"tickSize":{"condition":{"test":"abs(datum.value*5-round(datum.value*5))<0.01","value":-9},"value":-4.5}}},
      "x2":{"field":"x2"},
      "y":{"field":"y","type":"quantitative","scale":{"domain":[-1,0.6],"nice":false,"zero":false},"axis":{"orient":"left","title":"G","titleAngle":0,"titleAlign":"left","titleBaseline":"middle","titleX":-21,"titleY":4,"titleFont":"Liberation Sans","titleFontSize":18,"values":[-1,-0.95,-0.9,-0.85,-0.8,-0.75,-0.7,-0.65,-0.6,-0.55,-0.5,-0.45,-0.4,-0.35,-0.3,-0.25,-0.2,-0.15,-0.1,-0.05,0,0.05,0.1,0.15,0.2,0.25,0.3,0.35,0.4,0.45,0.5,0.55,0.6],"tickSize":{"condition":{"test":"abs(datum.value*5-round(datum.value*5))<0.01","value":-9},"value":-4.5},"labelExpr":"abs(datum.value*2.5-round(datum.value*2.5))<0.01 ? replace(format(datum.value,'~g'),'−','-') : ''","labelFontSize":12.5,"labelPadding":12}},
      "y2":{"datum":0}}},
    {"data":{"values":[{}]},"mark":{"type":"rule","color":"black","strokeWidth":1,"strokeDash":[3,2]},"encoding":{
      "x":{"datum":-1,"type":"quantitative","scale":{"domain":[-1,1],"nice":false,"zero":false},"axis":{"orient":"bottom","title":null,"labels":false,"values":[-1,-0.95,-0.9,-0.85,-0.8,-0.75,-0.7,-0.65,-0.6,-0.55,-0.5,-0.45,-0.4,-0.35,-0.3,-0.25,-0.2,-0.15,-0.1,-0.05,0,0.05,0.1,0.15,0.2,0.25,0.3,0.35,0.4,0.45,0.5,0.55,0.6,0.65,0.7,0.75,0.8,0.85,0.9,0.95,1],"tickSize":{"condition":{"test":"abs(datum.value*5-round(datum.value*5))<0.01","value":-9},"value":-4.5}}},
      "x2":{"datum":1},
      "y":{"datum":0,"type":"quantitative","scale":{"domain":[-1,0.6],"nice":false,"zero":false},"axis":{"orient":"left","title":"G","titleAngle":0,"titleAlign":"left","titleBaseline":"middle","titleX":-21,"titleY":4,"titleFont":"Liberation Sans","titleFontSize":18,"values":[-1,-0.95,-0.9,-0.85,-0.8,-0.75,-0.7,-0.65,-0.6,-0.55,-0.5,-0.45,-0.4,-0.35,-0.3,-0.25,-0.2,-0.15,-0.1,-0.05,0,0.05,0.1,0.15,0.2,0.25,0.3,0.35,0.4,0.45,0.5,0.55,0.6],"tickSize":{"condition":{"test":"abs(datum.value*5-round(datum.value*5))<0.01","value":-9},"value":-4.5},"labelExpr":"abs(datum.value*2.5-round(datum.value*2.5))<0.01 ? replace(format(datum.value,'~g'),'−','-') : ''","labelFontSize":12.5,"labelPadding":12}}}},
    {"encoding":{
      "x":{"field":"x","type":"quantitative","scale":{"domain":[-1,1],"nice":false,"zero":false},"axis":{"orient":"bottom","title":null,"labels":false,"values":[-1,-0.95,-0.9,-0.85,-0.8,-0.75,-0.7,-0.65,-0.6,-0.55,-0.5,-0.45,-0.4,-0.35,-0.3,-0.25,-0.2,-0.15,-0.1,-0.05,0,0.05,0.1,0.15,0.2,0.25,0.3,0.35,0.4,0.45,0.5,0.55,0.6,0.65,0.7,0.75,0.8,0.85,0.9,0.95,1],"tickSize":{"condition":{"test":"abs(datum.value*5-round(datum.value*5))<0.01","value":-9},"value":-4.5}}},
      "y":{"field":"y","type":"quantitative","scale":{"domain":[-1,0.6],"nice":false,"zero":false},"axis":{"orient":"left","title":"G","titleAngle":0,"titleAlign":"left","titleBaseline":"middle","titleX":-21,"titleY":4,"titleFont":"Liberation Sans","titleFontSize":18,"values":[-1,-0.95,-0.9,-0.85,-0.8,-0.75,-0.7,-0.65,-0.6,-0.55,-0.5,-0.45,-0.4,-0.35,-0.3,-0.25,-0.2,-0.15,-0.1,-0.05,0,0.05,0.1,0.15,0.2,0.25,0.3,0.35,0.4,0.45,0.5,0.55,0.6],"tickSize":{"condition":{"test":"abs(datum.value*5-round(datum.value*5))<0.01","value":-9},"value":-4.5},"labelExpr":"abs(datum.value*2.5-round(datum.value*2.5))<0.01 ? replace(format(datum.value,'~g'),'−','-') : ''","labelFontSize":12.5,"labelPadding":12}}
     },
     "layer":[
      {"data":{"name":"cur"},"transform":[{"filter":"datum.p==800"}],"mark":{"type":"line","strokeWidth":1.8,"interpolate":"monotone","clip":true},"encoding":{"color":{"field":"m","type":"nominal","scale":{"domain":["s","r","b","k","d"],"range":["black","#ff0000","#0000ff","black","black"]},"legend":null},"strokeDash":{"field":"m","type":"nominal","scale":{"domain":["s","r","b","k","d"],"range":[[1,0],[7,4],[2,3],[11,5],[10,3,2,3]]},"legend":null}}},
      {"data":{"name":"pts"},"transform":[{"filter":"datum.p==800"}],"mark":{"type":"rule","color":"black","strokeWidth":1.5,"clip":true},"encoding":{"y":{"field":"lo","type":"quantitative"},"y2":{"field":"hi"}}},
      {"data":{"name":"pts"},"transform":[{"filter":"datum.p==800"}],"mark":{"type":"point","filled":true,"color":"black","opacity":1,"size":30,"clip":true}}
     ]},
    {"data":{"values":[{}]},"mark":{"type":"text","align":"left","baseline":"middle","fontSize":13.5},"encoding":{
      "x":{"datum":-0.86,"type":"quantitative","scale":{"domain":[-1,1],"nice":false,"zero":false},"axis":{"orient":"bottom","title":null,"labels":false,"values":[-1,-0.95,-0.9,-0.85,-0.8,-0.75,-0.7,-0.65,-0.6,-0.55,-0.5,-0.45,-0.4,-0.35,-0.3,-0.25,-0.2,-0.15,-0.1,-0.05,0,0.05,0.1,0.15,0.2,0.25,0.3,0.35,0.4,0.45,0.5,0.55,0.6,0.65,0.7,0.75,0.8,0.85,0.9,0.95,1],"tickSize":{"condition":{"test":"abs(datum.value*5-round(datum.value*5))<0.01","value":-9},"value":-4.5}}},
      "y":{"datum":0.385,"type":"quantitative","scale":{"domain":[-1,0.6],"nice":false,"zero":false},"axis":{"orient":"left","title":"G","titleAngle":0,"titleAlign":"left","titleBaseline":"middle","titleX":-21,"titleY":4,"titleFont":"Liberation Sans","titleFontSize":18,"values":[-1,-0.95,-0.9,-0.85,-0.8,-0.75,-0.7,-0.65,-0.6,-0.55,-0.5,-0.45,-0.4,-0.35,-0.3,-0.25,-0.2,-0.15,-0.1,-0.05,0,0.05,0.1,0.15,0.2,0.25,0.3,0.35,0.4,0.45,0.5,0.55,0.6],"tickSize":{"condition":{"test":"abs(datum.value*5-round(datum.value*5))<0.01","value":-9},"value":-4.5},"labelExpr":"abs(datum.value*2.5-round(datum.value*2.5))<0.01 ? replace(format(datum.value,'~g'),'−','-') : ''","labelFontSize":12.5,"labelPadding":12}},
      "text":{"value":"Eᵧ = 800 ± 25 MeV"}}}
   ]},
  {"width":251,"height":226,
   "layer":[
    {"data":{"name":"hist"},"transform":[{"filter":"datum.p==900"}],"mark":{"type":"bar","color":"#868686"},"encoding":{
      "x":{"field":"x","type":"quantitative","scale":{"domain":[-1,1],"nice":false,"zero":false},"axis":{"orient":"bottom","title":null,"labels":false,"values":[-1,-0.95,-0.9,-0.85,-0.8,-0.75,-0.7,-0.65,-0.6,-0.55,-0.5,-0.45,-0.4,-0.35,-0.3,-0.25,-0.2,-0.15,-0.1,-0.05,0,0.05,0.1,0.15,0.2,0.25,0.3,0.35,0.4,0.45,0.5,0.55,0.6,0.65,0.7,0.75,0.8,0.85,0.9,0.95,1],"tickSize":{"condition":{"test":"abs(datum.value*5-round(datum.value*5))<0.01","value":-9},"value":-4.5}}},
      "x2":{"field":"x2"},
      "y":{"field":"y","type":"quantitative","scale":{"domain":[-1,0.6],"nice":false,"zero":false},"axis":{"orient":"left","title":null,"labels":false,"values":[-1,-0.95,-0.9,-0.85,-0.8,-0.75,-0.7,-0.65,-0.6,-0.55,-0.5,-0.45,-0.4,-0.35,-0.3,-0.25,-0.2,-0.15,-0.1,-0.05,0,0.05,0.1,0.15,0.2,0.25,0.3,0.35,0.4,0.45,0.5,0.55,0.6],"tickSize":{"condition":{"test":"abs(datum.value*5-round(datum.value*5))<0.01","value":-9},"value":-4.5}}},
      "y2":{"datum":0}}},
    {"data":{"values":[{}]},"mark":{"type":"rule","color":"black","strokeWidth":1,"strokeDash":[3,2]},"encoding":{
      "x":{"datum":-1,"type":"quantitative","scale":{"domain":[-1,1],"nice":false,"zero":false},"axis":{"orient":"bottom","title":null,"labels":false,"values":[-1,-0.95,-0.9,-0.85,-0.8,-0.75,-0.7,-0.65,-0.6,-0.55,-0.5,-0.45,-0.4,-0.35,-0.3,-0.25,-0.2,-0.15,-0.1,-0.05,0,0.05,0.1,0.15,0.2,0.25,0.3,0.35,0.4,0.45,0.5,0.55,0.6,0.65,0.7,0.75,0.8,0.85,0.9,0.95,1],"tickSize":{"condition":{"test":"abs(datum.value*5-round(datum.value*5))<0.01","value":-9},"value":-4.5}}},
      "x2":{"datum":1},
      "y":{"datum":0,"type":"quantitative","scale":{"domain":[-1,0.6],"nice":false,"zero":false},"axis":{"orient":"left","title":null,"labels":false,"values":[-1,-0.95,-0.9,-0.85,-0.8,-0.75,-0.7,-0.65,-0.6,-0.55,-0.5,-0.45,-0.4,-0.35,-0.3,-0.25,-0.2,-0.15,-0.1,-0.05,0,0.05,0.1,0.15,0.2,0.25,0.3,0.35,0.4,0.45,0.5,0.55,0.6],"tickSize":{"condition":{"test":"abs(datum.value*5-round(datum.value*5))<0.01","value":-9},"value":-4.5}}}}},
    {"encoding":{
      "x":{"field":"x","type":"quantitative","scale":{"domain":[-1,1],"nice":false,"zero":false},"axis":{"orient":"bottom","title":null,"labels":false,"values":[-1,-0.95,-0.9,-0.85,-0.8,-0.75,-0.7,-0.65,-0.6,-0.55,-0.5,-0.45,-0.4,-0.35,-0.3,-0.25,-0.2,-0.15,-0.1,-0.05,0,0.05,0.1,0.15,0.2,0.25,0.3,0.35,0.4,0.45,0.5,0.55,0.6,0.65,0.7,0.75,0.8,0.85,0.9,0.95,1],"tickSize":{"condition":{"test":"abs(datum.value*5-round(datum.value*5))<0.01","value":-9},"value":-4.5}}},
      "y":{"field":"y","type":"quantitative","scale":{"domain":[-1,0.6],"nice":false,"zero":false},"axis":{"orient":"left","title":null,"labels":false,"values":[-1,-0.95,-0.9,-0.85,-0.8,-0.75,-0.7,-0.65,-0.6,-0.55,-0.5,-0.45,-0.4,-0.35,-0.3,-0.25,-0.2,-0.15,-0.1,-0.05,0,0.05,0.1,0.15,0.2,0.25,0.3,0.35,0.4,0.45,0.5,0.55,0.6],"tickSize":{"condition":{"test":"abs(datum.value*5-round(datum.value*5))<0.01","value":-9},"value":-4.5}}}
     },
     "layer":[
      {"data":{"name":"cur"},"transform":[{"filter":"datum.p==900"}],"mark":{"type":"line","strokeWidth":1.8,"interpolate":"monotone","clip":true},"encoding":{"color":{"field":"m","type":"nominal","scale":{"domain":["s","r","b","k","d"],"range":["black","#ff0000","#0000ff","black","black"]},"legend":null},"strokeDash":{"field":"m","type":"nominal","scale":{"domain":["s","r","b","k","d"],"range":[[1,0],[7,4],[2,3],[11,5],[10,3,2,3]]},"legend":null}}},
      {"data":{"name":"pts"},"transform":[{"filter":"datum.p==900"}],"mark":{"type":"rule","color":"black","strokeWidth":1.5,"clip":true},"encoding":{"y":{"field":"lo","type":"quantitative"},"y2":{"field":"hi"}}},
      {"data":{"name":"pts"},"transform":[{"filter":"datum.p==900"}],"mark":{"type":"point","filled":true,"color":"black","opacity":1,"size":30,"clip":true}}
     ]},
    {"data":{"values":[{}]},"mark":{"type":"text","align":"left","baseline":"middle","fontSize":13.5},"encoding":{
      "x":{"datum":-0.86,"type":"quantitative","scale":{"domain":[-1,1],"nice":false,"zero":false},"axis":{"orient":"bottom","title":null,"labels":false,"values":[-1,-0.95,-0.9,-0.85,-0.8,-0.75,-0.7,-0.65,-0.6,-0.55,-0.5,-0.45,-0.4,-0.35,-0.3,-0.25,-0.2,-0.15,-0.1,-0.05,0,0.05,0.1,0.15,0.2,0.25,0.3,0.35,0.4,0.45,0.5,0.55,0.6,0.65,0.7,0.75,0.8,0.85,0.9,0.95,1],"tickSize":{"condition":{"test":"abs(datum.value*5-round(datum.value*5))<0.01","value":-9},"value":-4.5}}},
      "y":{"datum":0.385,"type":"quantitative","scale":{"domain":[-1,0.6],"nice":false,"zero":false},"axis":{"orient":"left","title":null,"labels":false,"values":[-1,-0.95,-0.9,-0.85,-0.8,-0.75,-0.7,-0.65,-0.6,-0.55,-0.5,-0.45,-0.4,-0.35,-0.3,-0.25,-0.2,-0.15,-0.1,-0.05,0,0.05,0.1,0.15,0.2,0.25,0.3,0.35,0.4,0.45,0.5,0.55,0.6],"tickSize":{"condition":{"test":"abs(datum.value*5-round(datum.value*5))<0.01","value":-9},"value":-4.5}}},
      "text":{"value":"Eᵧ = 900 ± 25 MeV"}}}
   ]},
  {"width":88,"height":226,"view":{"stroke":null},"data":{"values":[{}]},"mark":{"type":"text","text":""}},
  {"width":479,"height":226,
   "resolve":{"axis":{"x":"independent"}},
   "layer":[
    {"encoding":{
      "x":{"field":"x","type":"quantitative","scale":{"domain":[500,1200],"nice":false,"zero":false},"axis":{"orient":"bottom","title":null,"labels":false,"values":[500,520,540,560,580,600,620,640,660,680,700,720,740,760,780,800,820,840,860,880,900,920,940,960,980,1000,1020,1040,1060,1080,1100,1120,1140,1160,1180,1200],"tickSize":{"condition":{"test":"datum.value % 100 == 0","value":-10},"value":-5}}},
      "y":{"field":"y","type":"quantitative","scale":{"domain":[-1,0.6],"nice":false,"zero":false},"axis":{"orient":"left","title":"G","titleAngle":0,"titleAlign":"left","titleBaseline":"middle","titleX":-27,"titleY":-4,"titleFont":"Liberation Sans","titleFontSize":23,"values":[-1,-0.95,-0.9,-0.85,-0.8,-0.75,-0.7,-0.65,-0.6,-0.55,-0.5,-0.45,-0.4,-0.35,-0.3,-0.25,-0.2,-0.15,-0.1,-0.05,0,0.05,0.1,0.15,0.2,0.25,0.3,0.35,0.4,0.45,0.5,0.55,0.6],"tickSize":{"condition":{"test":"abs(datum.value*5-round(datum.value*5))<0.01","value":-10},"value":-5},"labelExpr":"abs(datum.value*2.5-round(datum.value*2.5))<0.01 ? replace(format(datum.value,'~g'),'−','-') : ''","labelFontSize":15,"labelPadding":15}}
     },
     "layer":[
      {"data":{"name":"cur"},"transform":[{"filter":"datum.p==90"}],"mark":{"type":"line","strokeWidth":1.8,"interpolate":"monotone","clip":true},"encoding":{"color":{"field":"m","type":"nominal","scale":{"domain":["s","r","b","k","d"],"range":["black","#ff0000","#0000ff","black","black"]},"legend":null},"strokeDash":{"field":"m","type":"nominal","scale":{"domain":["s","r","b","k","d"],"range":[[1,0],[7,4],[2,3],[11,5],[10,3,2,3]]},"legend":null}}},
      {"data":{"name":"pts"},"transform":[{"filter":"datum.p==90"}],"mark":{"type":"rule","color":"black","strokeWidth":1.5,"clip":true},"encoding":{"y":{"field":"lo","type":"quantitative"},"y2":{"field":"hi"}}},
      {"data":{"name":"pts"},"transform":[{"filter":"datum.p==90"}],"mark":{"type":"tick","orient":"horizontal","size":6,"thickness":1.5,"color":"black","opacity":1,"clip":true},"encoding":{"y":{"field":"lo","type":"quantitative"}}},
      {"data":{"name":"pts"},"transform":[{"filter":"datum.p==90"}],"mark":{"type":"tick","orient":"horizontal","size":6,"thickness":1.5,"color":"black","opacity":1,"clip":true},"encoding":{"y":{"field":"hi","type":"quantitative"}}},
      {"data":{"name":"pts"},"transform":[{"filter":"datum.p==90"}],"mark":{"type":"point","filled":true,"color":"black","opacity":1,"size":26,"clip":true}}
     ]},
    {"data":{"values":[{}]},"mark":{"type":"text","align":"left","baseline":"middle","fontSize":21},"encoding":{
      "x":{"datum":522,"type":"quantitative","scale":{"domain":[500,1200],"nice":false,"zero":false},"axis":{"orient":"bottom","title":null,"labels":false,"values":[500,520,540,560,580,600,620,640,660,680,700,720,740,760,780,800,820,840,860,880,900,920,940,960,980,1000,1020,1040,1060,1080,1100,1120,1140,1160,1180,1200],"tickSize":{"condition":{"test":"datum.value % 100 == 0","value":-10},"value":-5}}},
      "y":{"datum":-0.86,"type":"quantitative","scale":{"domain":[-1,0.6],"nice":false,"zero":false},"axis":{"orient":"left","title":"G","titleAngle":0,"titleAlign":"left","titleBaseline":"middle","titleX":-27,"titleY":-4,"titleFont":"Liberation Sans","titleFontSize":23,"values":[-1,-0.95,-0.9,-0.85,-0.8,-0.75,-0.7,-0.65,-0.6,-0.55,-0.5,-0.45,-0.4,-0.35,-0.3,-0.25,-0.2,-0.15,-0.1,-0.05,0,0.05,0.1,0.15,0.2,0.25,0.3,0.35,0.4,0.45,0.5,0.55,0.6],"tickSize":{"condition":{"test":"abs(datum.value*5-round(datum.value*5))<0.01","value":-10},"value":-5},"labelExpr":"abs(datum.value*2.5-round(datum.value*2.5))<0.01 ? replace(format(datum.value,'~g'),'−','-') : ''","labelFontSize":15,"labelPadding":15}},
      "text":{"value":"θπ = 90 ± 5°"}}},
    {"data":{"name":"res"},
     "encoding":{"x":{"field":"x","type":"quantitative","scale":{"domain":[500,1200],"nice":false,"zero":false},"axis":{"orient":"top","title":"W [MeV]","titleX":484,"titleY":-19,"titleAlign":"right","titleBaseline":"alphabetic","titleFontSize":16,"values":[502.1,575.3,651.3,729.9,811.2,895.1,981.7,1070.9,1162.9],"tickSize":-9,"labelPadding":12,"labelFontSize":15,"labelExpr":"datum.value==575.3?'1400':datum.value==729.9?'1500':datum.value==895.1?'1600':datum.value==1070.9?'1700':''"}}},
     "layer":[
      {"mark":{"type":"rule","color":"black","strokeWidth":1.2},"encoding":{"y":{"datum":0.035,"type":"quantitative","scale":{"domain":[-1,0.6],"nice":false,"zero":false},"axis":{"orient":"left","title":"G","titleAngle":0,"titleAlign":"left","titleBaseline":"middle","titleX":-27,"titleY":-4,"titleFont":"Liberation Sans","titleFontSize":23,"values":[-1,-0.95,-0.9,-0.85,-0.8,-0.75,-0.7,-0.65,-0.6,-0.55,-0.5,-0.45,-0.4,-0.35,-0.3,-0.25,-0.2,-0.15,-0.1,-0.05,0,0.05,0.1,0.15,0.2,0.25,0.3,0.35,0.4,0.45,0.5,0.55,0.6],"tickSize":{"condition":{"test":"abs(datum.value*5-round(datum.value*5))<0.01","value":-10},"value":-5},"labelExpr":"abs(datum.value*2.5-round(datum.value*2.5))<0.01 ? replace(format(datum.value,'~g'),'−','-') : ''","labelFontSize":15,"labelPadding":15}},"y2":{"datum":-0.13}}},
      {"mark":{"type":"point","shape":"M-0.3,-1L0,1L0.3,-1Z","filled":true,"color":"black","opacity":1,"size":100},"encoding":{"y":{"datum":-0.13,"type":"quantitative","scale":{"domain":[-1,0.6],"nice":false,"zero":false},"axis":{"orient":"left","title":"G","titleAngle":0,"titleAlign":"left","titleBaseline":"middle","titleX":-27,"titleY":-4,"titleFont":"Liberation Sans","titleFontSize":23,"values":[-1,-0.95,-0.9,-0.85,-0.8,-0.75,-0.7,-0.65,-0.6,-0.55,-0.5,-0.45,-0.4,-0.35,-0.3,-0.25,-0.2,-0.15,-0.1,-0.05,0,0.05,0.1,0.15,0.2,0.25,0.3,0.35,0.4,0.45,0.5,0.55,0.6],"tickSize":{"condition":{"test":"abs(datum.value*5-round(datum.value*5))<0.01","value":-10},"value":-5},"labelExpr":"abs(datum.value*2.5-round(datum.value*2.5))<0.01 ? replace(format(datum.value,'~g'),'−','-') : ''","labelFontSize":15,"labelPadding":15}}}},
      {"mark":{"type":"text","angle":270,"align":"left","baseline":"middle","fontSize":18},"encoding":{"y":{"datum":0.075,"type":"quantitative","scale":{"domain":[-1,0.6],"nice":false,"zero":false},"axis":{"orient":"left","title":"G","titleAngle":0,"titleAlign":"left","titleBaseline":"middle","titleX":-27,"titleY":-4,"titleFont":"Liberation Sans","titleFontSize":23,"values":[-1,-0.95,-0.9,-0.85,-0.8,-0.75,-0.7,-0.65,-0.6,-0.55,-0.5,-0.45,-0.4,-0.35,-0.3,-0.25,-0.2,-0.15,-0.1,-0.05,0,0.05,0.1,0.15,0.2,0.25,0.3,0.35,0.4,0.45,0.5,0.55,0.6],"tickSize":{"condition":{"test":"abs(datum.value*5-round(datum.value*5))<0.01","value":-10},"value":-5},"labelExpr":"abs(datum.value*2.5-round(datum.value*2.5))<0.01 ? replace(format(datum.value,'~g'),'−','-') : ''","labelFontSize":15,"labelPadding":15}},"text":{"field":"lab"}}}
     ]}
   ]},
  {"width":251,"height":227,
   "layer":[
    {"data":{"name":"hist"},"transform":[{"filter":"datum.p==1000"}],"mark":{"type":"bar","color":"#868686"},"encoding":{
      "x":{"field":"x","type":"quantitative","scale":{"domain":[-1,1],"nice":false,"zero":false},"axis":{"orient":"bottom","title":null,"values":[-1,-0.95,-0.9,-0.85,-0.8,-0.75,-0.7,-0.65,-0.6,-0.55,-0.5,-0.45,-0.4,-0.35,-0.3,-0.25,-0.2,-0.15,-0.1,-0.05,0,0.05,0.1,0.15,0.2,0.25,0.3,0.35,0.4,0.45,0.5,0.55,0.6,0.65,0.7,0.75,0.8,0.85,0.9,0.95,1],"tickSize":{"condition":{"test":"abs(datum.value*5-round(datum.value*5))<0.01","value":-9},"value":-4.5},"labelExpr":"abs(datum.value*2.5-round(datum.value*2.5))<0.01 ? replace(format(datum.value,'~g'),'−','-') : ''","labelFontSize":12.5,"labelPadding":12}},
      "x2":{"field":"x2"},
      "y":{"field":"y","type":"quantitative","scale":{"domain":[-1,0.6],"nice":false,"zero":false},"axis":{"orient":"left","title":null,"values":[-1,-0.95,-0.9,-0.85,-0.8,-0.75,-0.7,-0.65,-0.6,-0.55,-0.5,-0.45,-0.4,-0.35,-0.3,-0.25,-0.2,-0.15,-0.1,-0.05,0,0.05,0.1,0.15,0.2,0.25,0.3,0.35,0.4,0.45,0.5,0.55,0.6],"tickSize":{"condition":{"test":"abs(datum.value*5-round(datum.value*5))<0.01","value":-9},"value":-4.5},"labelExpr":"abs(datum.value*2.5-round(datum.value*2.5))<0.01 ? replace(format(datum.value,'~g'),'−','-') : ''","labelFontSize":12.5,"labelPadding":12}},
      "y2":{"datum":0}}},
    {"data":{"values":[{}]},"mark":{"type":"rule","color":"black","strokeWidth":1,"strokeDash":[3,2]},"encoding":{
      "x":{"datum":-1,"type":"quantitative","scale":{"domain":[-1,1],"nice":false,"zero":false},"axis":{"orient":"bottom","title":null,"values":[-1,-0.95,-0.9,-0.85,-0.8,-0.75,-0.7,-0.65,-0.6,-0.55,-0.5,-0.45,-0.4,-0.35,-0.3,-0.25,-0.2,-0.15,-0.1,-0.05,0,0.05,0.1,0.15,0.2,0.25,0.3,0.35,0.4,0.45,0.5,0.55,0.6,0.65,0.7,0.75,0.8,0.85,0.9,0.95,1],"tickSize":{"condition":{"test":"abs(datum.value*5-round(datum.value*5))<0.01","value":-9},"value":-4.5},"labelExpr":"abs(datum.value*2.5-round(datum.value*2.5))<0.01 ? replace(format(datum.value,'~g'),'−','-') : ''","labelFontSize":12.5,"labelPadding":12}},
      "x2":{"datum":1},
      "y":{"datum":0,"type":"quantitative","scale":{"domain":[-1,0.6],"nice":false,"zero":false},"axis":{"orient":"left","title":null,"values":[-1,-0.95,-0.9,-0.85,-0.8,-0.75,-0.7,-0.65,-0.6,-0.55,-0.5,-0.45,-0.4,-0.35,-0.3,-0.25,-0.2,-0.15,-0.1,-0.05,0,0.05,0.1,0.15,0.2,0.25,0.3,0.35,0.4,0.45,0.5,0.55,0.6],"tickSize":{"condition":{"test":"abs(datum.value*5-round(datum.value*5))<0.01","value":-9},"value":-4.5},"labelExpr":"abs(datum.value*2.5-round(datum.value*2.5))<0.01 ? replace(format(datum.value,'~g'),'−','-') : ''","labelFontSize":12.5,"labelPadding":12}}}},
    {"encoding":{
      "x":{"field":"x","type":"quantitative","scale":{"domain":[-1,1],"nice":false,"zero":false},"axis":{"orient":"bottom","title":null,"values":[-1,-0.95,-0.9,-0.85,-0.8,-0.75,-0.7,-0.65,-0.6,-0.55,-0.5,-0.45,-0.4,-0.35,-0.3,-0.25,-0.2,-0.15,-0.1,-0.05,0,0.05,0.1,0.15,0.2,0.25,0.3,0.35,0.4,0.45,0.5,0.55,0.6,0.65,0.7,0.75,0.8,0.85,0.9,0.95,1],"tickSize":{"condition":{"test":"abs(datum.value*5-round(datum.value*5))<0.01","value":-9},"value":-4.5},"labelExpr":"abs(datum.value*2.5-round(datum.value*2.5))<0.01 ? replace(format(datum.value,'~g'),'−','-') : ''","labelFontSize":12.5,"labelPadding":12}},
      "y":{"field":"y","type":"quantitative","scale":{"domain":[-1,0.6],"nice":false,"zero":false},"axis":{"orient":"left","title":null,"values":[-1,-0.95,-0.9,-0.85,-0.8,-0.75,-0.7,-0.65,-0.6,-0.55,-0.5,-0.45,-0.4,-0.35,-0.3,-0.25,-0.2,-0.15,-0.1,-0.05,0,0.05,0.1,0.15,0.2,0.25,0.3,0.35,0.4,0.45,0.5,0.55,0.6],"tickSize":{"condition":{"test":"abs(datum.value*5-round(datum.value*5))<0.01","value":-9},"value":-4.5},"labelExpr":"abs(datum.value*2.5-round(datum.value*2.5))<0.01 ? replace(format(datum.value,'~g'),'−','-') : ''","labelFontSize":12.5,"labelPadding":12}}
     },
     "layer":[
      {"data":{"name":"cur"},"transform":[{"filter":"datum.p==1000"}],"mark":{"type":"line","strokeWidth":1.8,"interpolate":"monotone","clip":true},"encoding":{"color":{"field":"m","type":"nominal","scale":{"domain":["s","r","b","k","d"],"range":["black","#ff0000","#0000ff","black","black"]},"legend":null},"strokeDash":{"field":"m","type":"nominal","scale":{"domain":["s","r","b","k","d"],"range":[[1,0],[7,4],[2,3],[11,5],[10,3,2,3]]},"legend":null}}},
      {"data":{"name":"pts"},"transform":[{"filter":"datum.p==1000"}],"mark":{"type":"rule","color":"black","strokeWidth":1.5,"clip":true},"encoding":{"y":{"field":"lo","type":"quantitative"},"y2":{"field":"hi"}}},
      {"data":{"name":"pts"},"transform":[{"filter":"datum.p==1000"}],"mark":{"type":"point","filled":true,"color":"black","opacity":1,"size":30,"clip":true}}
     ]},
    {"data":{"values":[{}]},"mark":{"type":"text","align":"left","baseline":"middle","fontSize":13.5},"encoding":{
      "x":{"datum":-0.86,"type":"quantitative","scale":{"domain":[-1,1],"nice":false,"zero":false},"axis":{"orient":"bottom","title":null,"values":[-1,-0.95,-0.9,-0.85,-0.8,-0.75,-0.7,-0.65,-0.6,-0.55,-0.5,-0.45,-0.4,-0.35,-0.3,-0.25,-0.2,-0.15,-0.1,-0.05,0,0.05,0.1,0.15,0.2,0.25,0.3,0.35,0.4,0.45,0.5,0.55,0.6,0.65,0.7,0.75,0.8,0.85,0.9,0.95,1],"tickSize":{"condition":{"test":"abs(datum.value*5-round(datum.value*5))<0.01","value":-9},"value":-4.5},"labelExpr":"abs(datum.value*2.5-round(datum.value*2.5))<0.01 ? replace(format(datum.value,'~g'),'−','-') : ''","labelFontSize":12.5,"labelPadding":12}},
      "y":{"datum":0.38,"type":"quantitative","scale":{"domain":[-1,0.6],"nice":false,"zero":false},"axis":{"orient":"left","title":null,"values":[-1,-0.95,-0.9,-0.85,-0.8,-0.75,-0.7,-0.65,-0.6,-0.55,-0.5,-0.45,-0.4,-0.35,-0.3,-0.25,-0.2,-0.15,-0.1,-0.05,0,0.05,0.1,0.15,0.2,0.25,0.3,0.35,0.4,0.45,0.5,0.55,0.6],"tickSize":{"condition":{"test":"abs(datum.value*5-round(datum.value*5))<0.01","value":-9},"value":-4.5},"labelExpr":"abs(datum.value*2.5-round(datum.value*2.5))<0.01 ? replace(format(datum.value,'~g'),'−','-') : ''","labelFontSize":12.5,"labelPadding":12}},
      "text":{"value":"Eᵧ = 1000 ± 25 MeV"}}}
   ]},
  {"width":251,"height":227,
   "layer":[
    {"data":{"name":"hist"},"transform":[{"filter":"datum.p==1100"}],"mark":{"type":"bar","color":"#868686"},"encoding":{
      "x":{"field":"x","type":"quantitative","scale":{"domain":[-1,1],"nice":false,"zero":false},"axis":{"orient":"bottom","title":"cos θπ","titleX":251,"titleY":28,"titleAlign":"right","titleBaseline":"alphabetic","titleFontSize":14,"values":[-1,-0.95,-0.9,-0.85,-0.8,-0.75,-0.7,-0.65,-0.6,-0.55,-0.5,-0.45,-0.4,-0.35,-0.3,-0.25,-0.2,-0.15,-0.1,-0.05,0,0.05,0.1,0.15,0.2,0.25,0.3,0.35,0.4,0.45,0.5,0.55,0.6,0.65,0.7,0.75,0.8,0.85,0.9,0.95,1],"tickSize":{"condition":{"test":"abs(datum.value*5-round(datum.value*5))<0.01","value":-9},"value":-4.5},"labelExpr":"abs(datum.value*2.5-round(datum.value*2.5))<0.01 ? replace(format(datum.value,'~g'),'−','-') : ''","labelFontSize":12.5,"labelPadding":12}},
      "x2":{"field":"x2"},
      "y":{"field":"y","type":"quantitative","scale":{"domain":[-1,0.6],"nice":false,"zero":false},"axis":{"orient":"left","title":null,"labels":false,"values":[-1,-0.95,-0.9,-0.85,-0.8,-0.75,-0.7,-0.65,-0.6,-0.55,-0.5,-0.45,-0.4,-0.35,-0.3,-0.25,-0.2,-0.15,-0.1,-0.05,0,0.05,0.1,0.15,0.2,0.25,0.3,0.35,0.4,0.45,0.5,0.55,0.6],"tickSize":{"condition":{"test":"abs(datum.value*5-round(datum.value*5))<0.01","value":-9},"value":-4.5}}},
      "y2":{"datum":0}}},
    {"data":{"values":[{}]},"mark":{"type":"rule","color":"black","strokeWidth":1,"strokeDash":[3,2]},"encoding":{
      "x":{"datum":-1,"type":"quantitative","scale":{"domain":[-1,1],"nice":false,"zero":false},"axis":{"orient":"bottom","title":"cos θπ","titleX":251,"titleY":28,"titleAlign":"right","titleBaseline":"alphabetic","titleFontSize":14,"values":[-1,-0.95,-0.9,-0.85,-0.8,-0.75,-0.7,-0.65,-0.6,-0.55,-0.5,-0.45,-0.4,-0.35,-0.3,-0.25,-0.2,-0.15,-0.1,-0.05,0,0.05,0.1,0.15,0.2,0.25,0.3,0.35,0.4,0.45,0.5,0.55,0.6,0.65,0.7,0.75,0.8,0.85,0.9,0.95,1],"tickSize":{"condition":{"test":"abs(datum.value*5-round(datum.value*5))<0.01","value":-9},"value":-4.5},"labelExpr":"abs(datum.value*2.5-round(datum.value*2.5))<0.01 ? replace(format(datum.value,'~g'),'−','-') : ''","labelFontSize":12.5,"labelPadding":12}},
      "x2":{"datum":1},
      "y":{"datum":0,"type":"quantitative","scale":{"domain":[-1,0.6],"nice":false,"zero":false},"axis":{"orient":"left","title":null,"labels":false,"values":[-1,-0.95,-0.9,-0.85,-0.8,-0.75,-0.7,-0.65,-0.6,-0.55,-0.5,-0.45,-0.4,-0.35,-0.3,-0.25,-0.2,-0.15,-0.1,-0.05,0,0.05,0.1,0.15,0.2,0.25,0.3,0.35,0.4,0.45,0.5,0.55,0.6],"tickSize":{"condition":{"test":"abs(datum.value*5-round(datum.value*5))<0.01","value":-9},"value":-4.5}}}}},
    {"encoding":{
      "x":{"field":"x","type":"quantitative","scale":{"domain":[-1,1],"nice":false,"zero":false},"axis":{"orient":"bottom","title":"cos θπ","titleX":251,"titleY":28,"titleAlign":"right","titleBaseline":"alphabetic","titleFontSize":14,"values":[-1,-0.95,-0.9,-0.85,-0.8,-0.75,-0.7,-0.65,-0.6,-0.55,-0.5,-0.45,-0.4,-0.35,-0.3,-0.25,-0.2,-0.15,-0.1,-0.05,0,0.05,0.1,0.15,0.2,0.25,0.3,0.35,0.4,0.45,0.5,0.55,0.6,0.65,0.7,0.75,0.8,0.85,0.9,0.95,1],"tickSize":{"condition":{"test":"abs(datum.value*5-round(datum.value*5))<0.01","value":-9},"value":-4.5},"labelExpr":"abs(datum.value*2.5-round(datum.value*2.5))<0.01 ? replace(format(datum.value,'~g'),'−','-') : ''","labelFontSize":12.5,"labelPadding":12}},
      "y":{"field":"y","type":"quantitative","scale":{"domain":[-1,0.6],"nice":false,"zero":false},"axis":{"orient":"left","title":null,"labels":false,"values":[-1,-0.95,-0.9,-0.85,-0.8,-0.75,-0.7,-0.65,-0.6,-0.55,-0.5,-0.45,-0.4,-0.35,-0.3,-0.25,-0.2,-0.15,-0.1,-0.05,0,0.05,0.1,0.15,0.2,0.25,0.3,0.35,0.4,0.45,0.5,0.55,0.6],"tickSize":{"condition":{"test":"abs(datum.value*5-round(datum.value*5))<0.01","value":-9},"value":-4.5}}}
     },
     "layer":[
      {"data":{"name":"cur"},"transform":[{"filter":"datum.p==1100"}],"mark":{"type":"line","strokeWidth":1.8,"interpolate":"monotone","clip":true},"encoding":{"color":{"field":"m","type":"nominal","scale":{"domain":["s","r","b","k","d"],"range":["black","#ff0000","#0000ff","black","black"]},"legend":null},"strokeDash":{"field":"m","type":"nominal","scale":{"domain":["s","r","b","k","d"],"range":[[1,0],[7,4],[2,3],[11,5],[10,3,2,3]]},"legend":null}}},
      {"data":{"name":"pts"},"transform":[{"filter":"datum.p==1100"}],"mark":{"type":"rule","color":"black","strokeWidth":1.5,"clip":true},"encoding":{"y":{"field":"lo","type":"quantitative"},"y2":{"field":"hi"}}},
      {"data":{"name":"pts"},"transform":[{"filter":"datum.p==1100"}],"mark":{"type":"point","filled":true,"color":"black","opacity":1,"size":30,"clip":true}}
     ]},
    {"data":{"values":[{}]},"mark":{"type":"text","align":"left","baseline":"middle","fontSize":13.5},"encoding":{
      "x":{"datum":-0.86,"type":"quantitative","scale":{"domain":[-1,1],"nice":false,"zero":false},"axis":{"orient":"bottom","title":"cos θπ","titleX":251,"titleY":28,"titleAlign":"right","titleBaseline":"alphabetic","titleFontSize":14,"values":[-1,-0.95,-0.9,-0.85,-0.8,-0.75,-0.7,-0.65,-0.6,-0.55,-0.5,-0.45,-0.4,-0.35,-0.3,-0.25,-0.2,-0.15,-0.1,-0.05,0,0.05,0.1,0.15,0.2,0.25,0.3,0.35,0.4,0.45,0.5,0.55,0.6,0.65,0.7,0.75,0.8,0.85,0.9,0.95,1],"tickSize":{"condition":{"test":"abs(datum.value*5-round(datum.value*5))<0.01","value":-9},"value":-4.5},"labelExpr":"abs(datum.value*2.5-round(datum.value*2.5))<0.01 ? replace(format(datum.value,'~g'),'−','-') : ''","labelFontSize":12.5,"labelPadding":12}},
      "y":{"datum":0.38,"type":"quantitative","scale":{"domain":[-1,0.6],"nice":false,"zero":false},"axis":{"orient":"left","title":null,"labels":false,"values":[-1,-0.95,-0.9,-0.85,-0.8,-0.75,-0.7,-0.65,-0.6,-0.55,-0.5,-0.45,-0.4,-0.35,-0.3,-0.25,-0.2,-0.15,-0.1,-0.05,0,0.05,0.1,0.15,0.2,0.25,0.3,0.35,0.4,0.45,0.5,0.55,0.6],"tickSize":{"condition":{"test":"abs(datum.value*5-round(datum.value*5))<0.01","value":-9},"value":-4.5}}},
      "text":{"value":"Eᵧ = 1100 ± 25 MeV"}}}
   ]},
  {"width":88,"height":227,"view":{"stroke":null},"data":{"values":[{}]},"mark":{"type":"text","text":""}},
  {"width":479,"height":227,
   "layer":[
    {"encoding":{
      "x":{"field":"x","type":"quantitative","scale":{"domain":[500,1200],"nice":false,"zero":false},"axis":{"orient":"bottom","title":"Eᵧ [MeV]","titleX":490,"titleY":34,"titleAlign":"right","titleBaseline":"alphabetic","titleFontSize":16,"values":[500,520,540,560,580,600,620,640,660,680,700,720,740,760,780,800,820,840,860,880,900,920,940,960,980,1000,1020,1040,1060,1080,1100,1120,1140,1160,1180,1200],"tickSize":{"condition":{"test":"datum.value % 100 == 0","value":-10},"value":-5},"labelExpr":"datum.value % 200 == 0 && datum.value > 500 ? format(datum.value,'d') : ''","labelFontSize":15,"labelPadding":15}},
      "y":{"field":"y","type":"quantitative","scale":{"domain":[-1,0.2],"nice":false,"zero":false},"axis":{"orient":"left","title":null,"values":[-1,-0.95,-0.9,-0.85,-0.8,-0.75,-0.7,-0.65,-0.6,-0.55,-0.5,-0.45,-0.4,-0.35,-0.3,-0.25,-0.2,-0.15,-0.1,-0.05,0,0.05,0.1,0.15,0.2],"tickSize":{"condition":{"test":"abs(datum.value*5-round(datum.value*5))<0.01","value":-10},"value":-5},"labelExpr":"abs(datum.value*2.5-round(datum.value*2.5))<0.01 ? replace(format(datum.value,'~g'),'−','-') : ''","labelFontSize":15,"labelPadding":15}}
     },
     "layer":[
      {"data":{"name":"cur"},"transform":[{"filter":"datum.p==130"}],"mark":{"type":"line","strokeWidth":1.8,"interpolate":"monotone","clip":true},"encoding":{"color":{"field":"m","type":"nominal","scale":{"domain":["s","r","b","k","d"],"range":["black","#ff0000","#0000ff","black","black"]},"legend":null},"strokeDash":{"field":"m","type":"nominal","scale":{"domain":["s","r","b","k","d"],"range":[[1,0],[7,4],[2,3],[11,5],[10,3,2,3]]},"legend":null}}},
      {"data":{"name":"pts"},"transform":[{"filter":"datum.p==130"}],"mark":{"type":"rule","color":"black","strokeWidth":1.5,"clip":true},"encoding":{"y":{"field":"lo","type":"quantitative"},"y2":{"field":"hi"}}},
      {"data":{"name":"pts"},"transform":[{"filter":"datum.p==130"}],"mark":{"type":"tick","orient":"horizontal","size":6,"thickness":1.5,"color":"black","opacity":1,"clip":true},"encoding":{"y":{"field":"lo","type":"quantitative"}}},
      {"data":{"name":"pts"},"transform":[{"filter":"datum.p==130"}],"mark":{"type":"tick","orient":"horizontal","size":6,"thickness":1.5,"color":"black","opacity":1,"clip":true},"encoding":{"y":{"field":"hi","type":"quantitative"}}},
      {"data":{"name":"pts"},"transform":[{"filter":"datum.p==130"}],"mark":{"type":"point","filled":true,"color":"black","opacity":1,"size":26,"clip":true}}
     ]},
    {"data":{"values":[{}]},"mark":{"type":"text","align":"left","baseline":"middle","fontSize":21},"encoding":{
      "x":{"datum":522,"type":"quantitative","scale":{"domain":[500,1200],"nice":false,"zero":false},"axis":{"orient":"bottom","title":"Eᵧ [MeV]","titleX":490,"titleY":34,"titleAlign":"right","titleBaseline":"alphabetic","titleFontSize":16,"values":[500,520,540,560,580,600,620,640,660,680,700,720,740,760,780,800,820,840,860,880,900,920,940,960,980,1000,1020,1040,1060,1080,1100,1120,1140,1160,1180,1200],"tickSize":{"condition":{"test":"datum.value % 100 == 0","value":-10},"value":-5},"labelExpr":"datum.value % 200 == 0 && datum.value > 500 ? format(datum.value,'d') : ''","labelFontSize":15,"labelPadding":15}},
      "y":{"datum":-0.888,"type":"quantitative","scale":{"domain":[-1,0.2],"nice":false,"zero":false},"axis":{"orient":"left","title":null,"values":[-1,-0.95,-0.9,-0.85,-0.8,-0.75,-0.7,-0.65,-0.6,-0.55,-0.5,-0.45,-0.4,-0.35,-0.3,-0.25,-0.2,-0.15,-0.1,-0.05,0,0.05,0.1,0.15,0.2],"tickSize":{"condition":{"test":"abs(datum.value*5-round(datum.value*5))<0.01","value":-10},"value":-5},"labelExpr":"abs(datum.value*2.5-round(datum.value*2.5))<0.01 ? replace(format(datum.value,'~g'),'−','-') : ''","labelFontSize":15,"labelPadding":15}},
      "text":{"value":"θπ = 130 ± 5°"}}}
   ]}
],
"config":{
 "view":{"stroke":"black","strokeWidth":1.2},
 "axis":{"domain":false,"grid":false,"labelFont":"Liberation Sans","labelColor":"black","tickColor":"black","tickWidth":1,"labelOverlap":false,"labelFlush":false,"titleFont":"DejaVu Serif","titleFontWeight":"normal","titleColor":"black"},
 "text":{"font":"DejaVu Serif","color":"black"},
 "line":{"strokeCap":"butt"}
}
}
